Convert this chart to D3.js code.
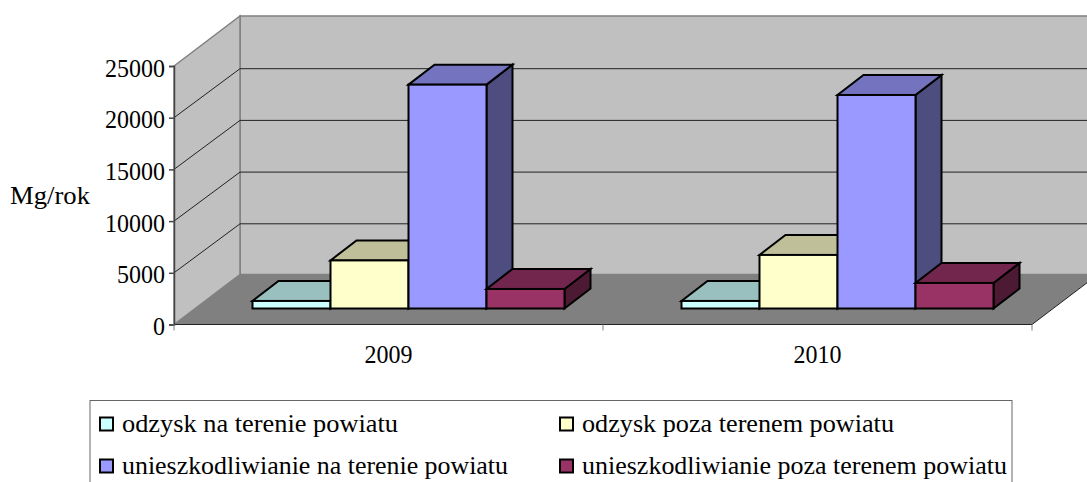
<!DOCTYPE html>
<html>
<head>
<meta charset="utf-8">
<script src="https://cdnjs.cloudflare.com/ajax/libs/d3/7.8.5/d3.min.js"></script>
<style>
  html, body { margin: 0; padding: 0; background: #fff; overflow: hidden; }
  text { font-family: "Liberation Serif", serif; fill: #000; }
</style>
</head>
<body>
<script>
'use strict';

// values
const years = ['2009', '2010'];
const seriesNames = [
  'odzysk na terenie powiatu',
  'odzysk poza terenem powiatu',
  'unieszkodliwianie na terenie powiatu',
  'unieszkodliwianie poza terenem powiatu'
];
const odzyskNa = [730, 730];
const odzyskPoza = [4650, 5180];
const unieszkNa = [21650, 20650];
const unieszkPoza = [1890, 2470];
const seriesValues = [odzyskNa, odzyskPoza, unieszkNa, unieszkPoza];
const yTicks = [0, 5000, 10000, 15000, 20000, 25000];
const yTitle = 'Mg/rok';

// front, top and side colour of each series
const frontColors = ['#ccffff', '#ffffcc', '#9999ff', '#993366'];
const topColors = ['#99bfbf', '#bfbf99', '#7373bf', '#73264d'];
const sideColors = ['#668080', '#808066', '#4d4d80', '#4d1a33'];

const svg = d3.select('body')
  .append('svg')
  .attr('width', 1087)
  .attr('height', 482)
  .style('display', 'block');

// oblique offset of the back wall and of a bar's depth
const wallDx = 66, wallDy = 50;
const barDx = 26, barDy = 20;
// bars stand a little way in from the front edge of the floor
const insetX = 20, insetY = 16;

const x0 = d3.scaleBand().domain(years).range([174, 1032]);
const x1 = d3.scaleBand().domain(d3.range(seriesNames.length)).range([0, 312]);
const y = d3.scaleLinear().domain([0, 25000]).range([324.5, 66]);

const left = x0.range()[0], right = x0.range()[1];
const poly = pts => pts.map(p => p.join(',')).join(' ');

// back wall, side wall, floor
svg.append('polygon')
  .attr('points', poly([[left + wallDx, y(25000) - wallDy], [right + wallDx, y(25000) - wallDy],
    [right + wallDx, y(0) - wallDy], [left + wallDx, y(0) - wallDy]]))
  .attr('fill', '#c0c0c0').attr('stroke', '#808080').attr('stroke-width', 1.5);
svg.append('polygon')
  .attr('points', poly([[left, y(25000)], [left + wallDx, y(25000) - wallDy],
    [left + wallDx, y(0) - wallDy], [left, y(0)]]))
  .attr('fill', '#c0c0c0').attr('stroke', '#808080').attr('stroke-width', 1.5);
svg.append('polygon')
  .attr('points', poly([[left, y(0)], [left + wallDx, y(0) - wallDy],
    [right + wallDx, y(0) - wallDy], [right, y(0)]]))
  .attr('fill', '#808080');

// gridlines
const gridTicks = yTicks.filter(d => d > 0 && d < 25000);
svg.append('g').selectAll('polyline')
  .data(gridTicks)
  .enter()
  .append('polyline')
    .attr('points', d => poly([[left, y(d)], [left + wallDx, y(d) - wallDy + 1], [right + wallDx, y(d) - wallDy + 1]]))
    .attr('fill', 'none')
    .attr('stroke', '#222')
    .attr('stroke-width', 1);

// floor front and right edges
svg.append('polyline')
  .attr('points', poly([[left, y(0)], [right, y(0)], [right + wallDx, y(0) - wallDy]]))
  .attr('fill', 'none').attr('stroke', '#222').attr('stroke-width', 1);

// y axis
const yAxis = svg.append('g')
  .attr('transform', `translate(${left}, 0)`)
  .call(d3.axisLeft(y).tickValues(yTicks).tickSize(5).tickPadding(4).tickFormat(d3.format('d')));
yAxis.selectAll('path, line').attr('stroke', '#444').attr('stroke-width', 1.5);
yAxis.selectAll('text')
  .style('font-size', '25px')
  .attr('font-family', null)
  .attr('dy', '0.4em')
  .attr('textLength', d => String(d).length * 12)
  .attr('lengthAdjust', 'spacingAndGlyphs');

// x axis: labels from the band scale, ticks on the band edges
const xAxis = svg.append('g')
  .attr('transform', `translate(0, ${y(0)})`)
  .call(d3.axisBottom(x0).tickSize(0).tickPadding(20.5));
xAxis.select('.domain').remove();
xAxis.selectAll('text')
  .style('font-size', '25px')
  .attr('font-family', null)
  .attr('textLength', 48)
  .attr('lengthAdjust', 'spacingAndGlyphs');
svg.append('g').selectAll('line')
  .data([left, x0(years[1]), right])
  .enter()
  .append('line')
    .attr('x1', d => d).attr('x2', d => d)
    .attr('y1', y(0)).attr('y2', y(0) + 6)
    .attr('stroke', '#808080').attr('stroke-width', 1);

svg.append('text')
  .attr('x', 10)
  .attr('y', 204)
  .attr('textLength', 80)
  .attr('lengthAdjust', 'spacingAndGlyphs')
  .style('font-size', '25px')
  .text(yTitle);

// bars, left to right so that each one covers the depth of the one before
years.forEach((year, yi) => {
  const groupX = x0(year) + x0.bandwidth() / 2 - 156 + insetX;
  const g = svg.append('g').attr('stroke', '#000').attr('stroke-width', 2).attr('stroke-linejoin', 'miter');
  seriesValues.forEach((vals, si) => {
    const xa = groupX + x1(si), xb = xa + x1.bandwidth();
    const yBase = y(0) - insetY, yTop = y(vals[yi]) - insetY;
    g.append('polygon')
      .attr('points', poly([[xb, yBase], [xb + barDx, yBase - barDy], [xb + barDx, yTop - barDy], [xb, yTop]]))
      .attr('fill', sideColors[si]);
    g.append('polygon')
      .attr('points', poly([[xa, yTop], [xa + barDx, yTop - barDy], [xb + barDx, yTop - barDy], [xb, yTop]]))
      .attr('fill', topColors[si]);
    g.append('rect')
      .attr('x', xa).attr('y', yTop)
      .attr('width', x1.bandwidth()).attr('height', yBase - yTop)
      .attr('fill', frontColors[si]);
  });
});

// legend
svg.append('rect')
  .attr('x', 90).attr('y', 400.5)
  .attr('width', 922).attr('height', 100)
  .attr('fill', '#fff').attr('stroke', '#666').attr('stroke-width', 1);

const legendX = [100, 560];
const legendY = [417.5, 459.5];
const legendLengths = [276, 312, 386, 425];
const legend = svg.append('g').selectAll('g')
  .data(seriesNames)
  .enter()
  .append('g')
    .attr('transform', (d, i) => `translate(${legendX[i % 2]}, ${legendY[Math.floor(i / 2)]})`);
legend.append('rect')
  .attr('width', 13).attr('height', 13)
  .attr('fill', (d, i) => frontColors[i])
  .attr('stroke', '#000').attr('stroke-width', 2);
legend.append('text')
  .attr('x', 22)
  .attr('y', 14)
  .attr('textLength', (d, i) => legendLengths[i])
  .attr('lengthAdjust', 'spacingAndGlyphs')
  .style('font-size', '26px')
  .text(d => d);
</script>
</body>
</html>
